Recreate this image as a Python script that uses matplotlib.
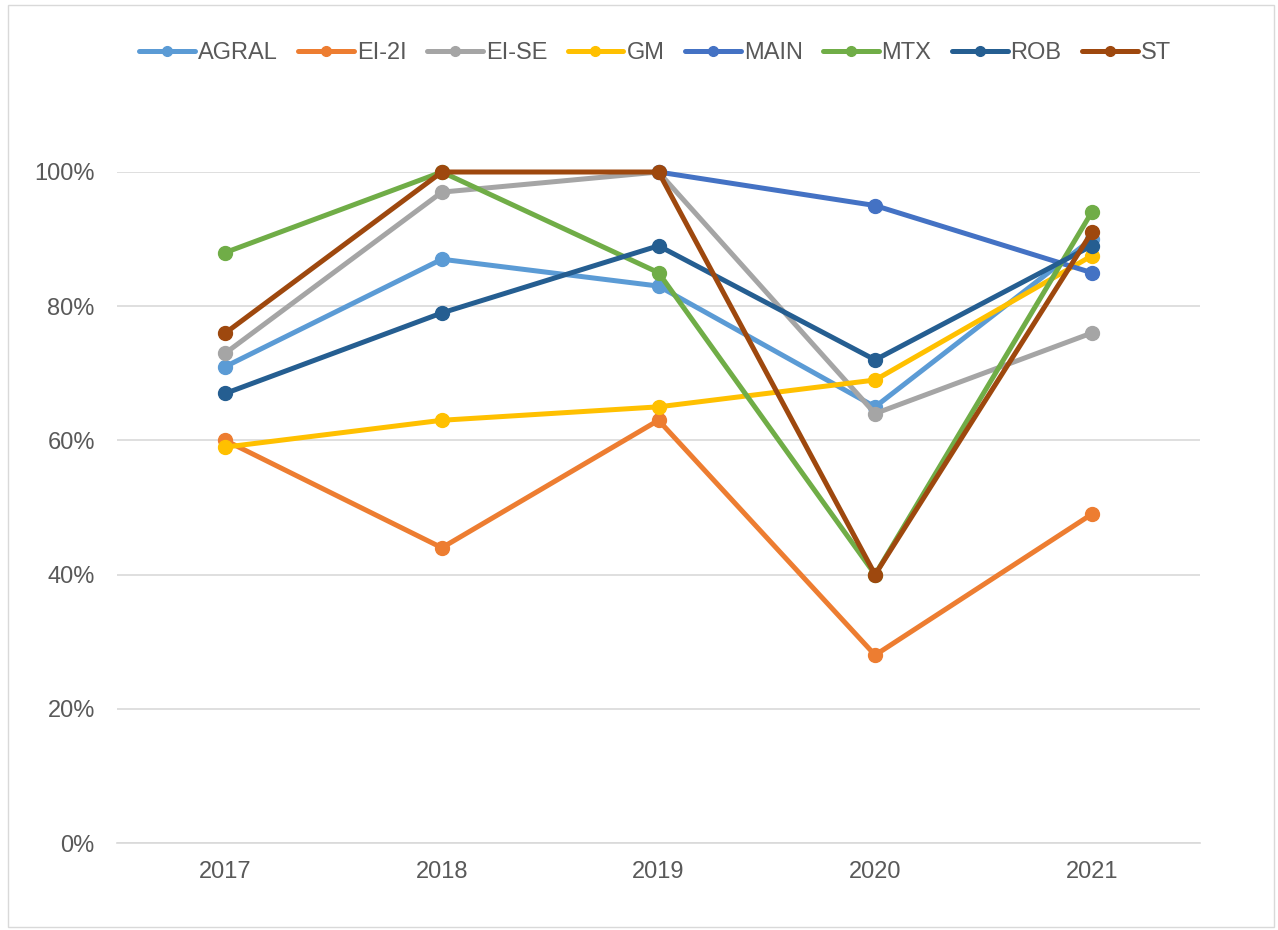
import matplotlib
matplotlib.use("Agg")
import matplotlib.pyplot as plt
from matplotlib.patches import Rectangle
from matplotlib.ticker import FuncFormatter

plt.rcParams['font.family'] = ['Liberation Sans', 'DejaVu Sans']

years = ["2017", "2018", "2019", "2020", "2021"]
series_names = ["AGRAL", "EI-2I", "EI-SE", "GM", "MAIN", "MTX", "ROB", "ST"]
agral = [0.71, 0.87, 0.83, 0.65, 0.90]
ei2i = [0.60, 0.44, 0.63, 0.28, 0.49]
eise = [0.73, 0.97, 1.00, 0.64, 0.76]
gm = [0.59, 0.63, 0.65, 0.69, 0.875]
main = [None, None, 1.00, 0.95, 0.85]
mtx = [0.88, 1.00, 0.85, 0.40, 0.94]
rob = [0.67, 0.79, 0.89, 0.72, 0.89]
st = [0.76, 1.00, 1.00, 0.40, 0.91]
colors = ["#5B9BD5", "#ED7D31", "#A5A5A5", "#FFC000", "#4472C4", "#70AD47", "#255E91", "#9E480E"]

all_series = [agral, ei2i, eise, gm, main, mtx, rob, st]

fig = plt.figure(figsize=(12.78, 9.3), dpi=100)
ax = fig.add_axes([117/1278, 1-843/930, (1200-117)/1278, (843-172)/930])

x = list(range(len(years)))
for name, vals, c in zip(series_names, all_series, colors):
    xs = [xi for xi, v in zip(x, vals) if v is not None]
    ys = [v for v in vals if v is not None]
    ax.plot(xs, ys, color=c, lw=3.6, marker='o', ms=10, label=name,
            clip_on=False, solid_capstyle='round', solid_joinstyle='round')

ax.set_xlim(-0.5, 4.5)
ax.set_ylim(0, 1.0)
ax.set_xticks(x)
ax.set_xticklabels(years)
ax.set_yticks([0, 0.2, 0.4, 0.6, 0.8, 1.0])
ax.yaxis.set_major_formatter(FuncFormatter(lambda v, p: f"{v*100:.0f}%"))
ax.grid(axis='y', color='#D9D9D9', lw=1.2)
ax.set_axisbelow(True)
for s in ['top', 'right', 'left']:
    ax.spines[s].set_visible(False)
ax.spines['bottom'].set_color('#D9D9D9')
ax.spines['bottom'].set_linewidth(1.2)
ax.tick_params(axis='both', length=0, labelsize=17, colors='#595959')
ax.tick_params(axis='x', pad=13)
ax.tick_params(axis='y', pad=16)

leg = fig.legend(loc='center', bbox_to_anchor=(655/1278, 1-53/930), ncol=8,
                 frameon=False, fontsize=17, handlelength=2.37, handletextpad=0.13,
                 columnspacing=0.85, labelcolor='#595959', markerscale=0.7)

fig.patches.append(Rectangle((8/1278, 3/930), 1266/1278, 922/930, transform=fig.transFigure,
                             fill=False, edgecolor='#D9D9D9', lw=1))

fig.savefig("out.png", dpi=100)
